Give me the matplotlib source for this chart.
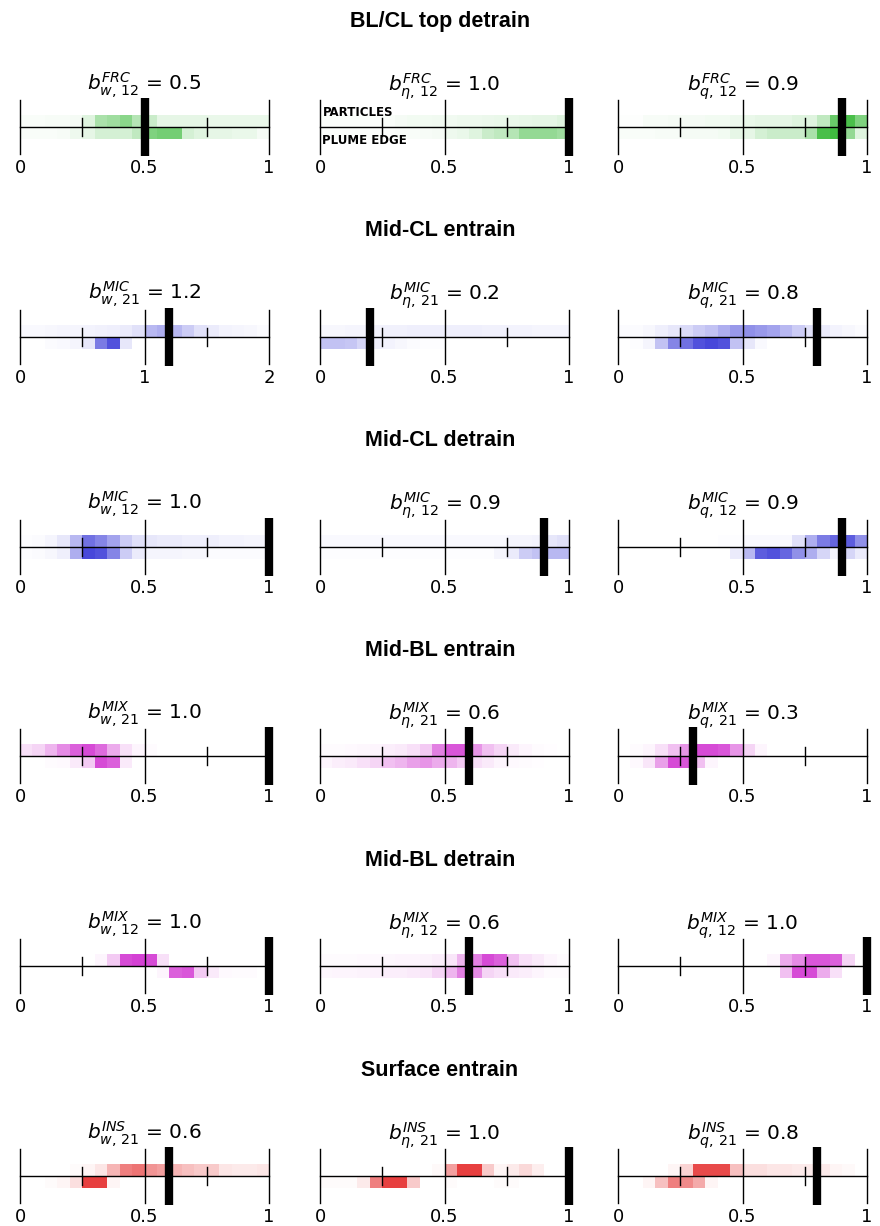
import numpy as np
import matplotlib
matplotlib.use("Agg")
import matplotlib.pyplot as plt
from matplotlib.colors import LinearSegmentedColormap

plt.rcParams["font.family"] = ["DejaVu Sans"]
plt.rcParams["mathtext.fontset"] = "dejavusans"

# ---- section titles, process labels and colours ----
SECTIONS = ["BL/CL top detrain", "Mid-CL entrain", "Mid-CL detrain",
            "Mid-BL entrain", "Mid-BL detrain", "Surface entrain"]
PROCESS = ["FRC", "MIC", "MIC", "MIX", "MIX", "INS"]
INDEX = ["12", "21", "12", "21", "12", "21"]
VARS = ["w", r"\eta", "q"]
COLORS = ["#2ab42a", "#3434d6", "#3434d6", "#cf2ccf", "#e42a2a"]
COLORS = ["#2ab42a", "#3434d6", "#3434d6", "#cf2ccf", "#cf2ccf", "#e42a2a"]

# ---- coefficient values (b) per section, columns w, eta, q ----
B_FRC_12 = [0.5, 1.0, 0.9]
B_MIC_21 = [1.2, 0.2, 0.8]
B_MIC_12 = [1.0, 0.9, 0.9]
B_MIX_21 = [1.0, 0.6, 0.3]
B_MIX_12 = [1.0, 0.6, 1.0]
B_INS_21 = [0.6, 1.0, 0.8]

# axis maximum per panel
XMAX_FRC_12 = [1, 1, 1]
XMAX_MIC_21 = [2, 1, 1]
XMAX_MIC_12 = [1, 1, 1]
XMAX_MIX_21 = [1, 1, 1]
XMAX_MIX_12 = [1, 1, 1]
XMAX_INS_21 = [1, 1, 1]

# ---- histogram densities (20 bins): particles (upper) / plume edge (lower) ----
FRC_W_PART = [0.03, 0.03, 0.04, 0.04, 0.05, 0.15, 0.40, 0.45, 0.55, 0.35, 0.25, 0.12, 0.12, 0.12, 0.12, 0.10, 0.10, 0.10, 0.10, 0.10]
FRC_W_EDGE = [0.03, 0.03, 0.03, 0.04, 0.08, 0.12, 0.20, 0.20, 0.20, 0.30, 0.60, 0.65, 0.65, 0.20, 0.15, 0.12, 0.12, 0.10, 0.10, 0.05]
FRC_E_PART = [0.02, 0.02, 0.02, 0.02, 0.02, 0.03, 0.05, 0.06, 0.06, 0.07, 0.07, 0.08, 0.08, 0.09, 0.10, 0.10, 0.11, 0.12, 0.12, 0.15]
FRC_E_EDGE = [0.02, 0.02, 0.02, 0.02, 0.02, 0.02, 0.03, 0.03, 0.04, 0.05, 0.08, 0.10, 0.15, 0.25, 0.30, 0.35, 0.50, 0.50, 0.50, 0.45]
FRC_Q_PART = [0.01, 0.01, 0.04, 0.04, 0.05, 0.05, 0.05, 0.06, 0.06, 0.08, 0.10, 0.12, 0.12, 0.12, 0.15, 0.15, 0.30, 0.70, 0.85, 0.60]
FRC_Q_EDGE = [0.03, 0.03, 0.03, 0.04, 0.04, 0.05, 0.05, 0.05, 0.06, 0.12, 0.12, 0.20, 0.25, 0.25, 0.25, 0.40, 0.85, 0.90, 0.50, 0.15]

MICE_W_PART = [0.03, 0.03, 0.04, 0.05, 0.05, 0.06, 0.07, 0.08, 0.10, 0.15, 0.35, 0.40, 0.35, 0.25, 0.15, 0.10, 0.06, 0.05, 0.04, 0.02]
MICE_W_EDGE = [0.00, 0.00, 0.02, 0.03, 0.05, 0.12, 0.65, 0.85, 0.12, 0.00, 0.00, 0.00, 0.00, 0.00, 0.00, 0.00, 0.00, 0.00, 0.00, 0.00]
MICE_E_PART = [0.04, 0.04, 0.05, 0.05, 0.06, 0.07, 0.07, 0.08, 0.08, 0.08, 0.08, 0.08, 0.08, 0.07, 0.07, 0.06, 0.06, 0.05, 0.05, 0.05]
MICE_E_EDGE = [0.30, 0.30, 0.28, 0.20, 0.08, 0.06, 0.04, 0.02, 0.01, 0.01, 0.00, 0.00, 0.00, 0.00, 0.00, 0.00, 0.00, 0.00, 0.00, 0.00]
MICE_Q_PART = [0.02, 0.02, 0.04, 0.08, 0.12, 0.18, 0.25, 0.30, 0.40, 0.50, 0.55, 0.50, 0.45, 0.35, 0.25, 0.15, 0.10, 0.06, 0.04, 0.02]
MICE_Q_EDGE = [0.00, 0.01, 0.05, 0.30, 0.60, 0.70, 0.85, 0.90, 0.85, 0.30, 0.12, 0.03, 0.00, 0.00, 0.00, 0.00, 0.00, 0.00, 0.00, 0.00]

MICD_W_PART = [0.01, 0.02, 0.05, 0.12, 0.35, 0.70, 0.60, 0.45, 0.25, 0.15, 0.12, 0.10, 0.10, 0.08, 0.08, 0.08, 0.06, 0.06, 0.05, 0.05]
MICD_W_EDGE = [0.01, 0.02, 0.04, 0.08, 0.40, 0.90, 0.85, 0.60, 0.25, 0.10, 0.05, 0.05, 0.05, 0.04, 0.04, 0.02, 0.02, 0.02, 0.02, 0.02]
MICD_E_PART = [0.03, 0.03, 0.03, 0.03, 0.03, 0.03, 0.03, 0.03, 0.03, 0.03, 0.03, 0.03, 0.03, 0.03, 0.03, 0.05, 0.05, 0.06, 0.12, 0.15]
MICD_E_EDGE = [0.01, 0.01, 0.01, 0.01, 0.01, 0.01, 0.01, 0.01, 0.01, 0.01, 0.01, 0.01, 0.01, 0.01, 0.05, 0.10, 0.25, 0.30, 0.35, 0.35]
MICD_Q_PART = [0.00, 0.00, 0.00, 0.00, 0.00, 0.00, 0.00, 0.00, 0.01, 0.01, 0.03, 0.03, 0.03, 0.03, 0.15, 0.40, 0.65, 0.75, 0.80, 0.55]
MICD_Q_EDGE = [0.00, 0.00, 0.00, 0.00, 0.00, 0.00, 0.00, 0.00, 0.00, 0.10, 0.35, 0.80, 0.85, 0.75, 0.55, 0.40, 0.20, 0.05, 0.20, 0.10]

MIXE_W_PART = [0.15, 0.20, 0.35, 0.55, 0.75, 0.85, 0.70, 0.40, 0.15, 0.05, 0.02, 0.00, 0.00, 0.00, 0.00, 0.00, 0.00, 0.00, 0.00, 0.00]
MIXE_W_EDGE = [0.00, 0.00, 0.02, 0.03, 0.10, 0.25, 0.85, 0.75, 0.10, 0.00, 0.00, 0.00, 0.00, 0.00, 0.00, 0.00, 0.00, 0.00, 0.00, 0.00]
MIXE_E_PART = [0.02, 0.02, 0.03, 0.04, 0.05, 0.08, 0.10, 0.15, 0.25, 0.60, 0.80, 0.80, 0.50, 0.30, 0.20, 0.10, 0.05, 0.02, 0.01, 0.00]
MIXE_E_EDGE = [0.05, 0.08, 0.10, 0.15, 0.20, 0.30, 0.35, 0.45, 0.50, 0.40, 0.35, 0.25, 0.15, 0.10, 0.05, 0.03, 0.02, 0.01, 0.00, 0.00]
MIXE_Q_PART = [0.00, 0.02, 0.05, 0.15, 0.30, 0.50, 0.85, 0.85, 0.80, 0.50, 0.20, 0.05, 0.00, 0.00, 0.00, 0.00, 0.00, 0.00, 0.00, 0.00]
MIXE_Q_EDGE = [0.00, 0.03, 0.12, 0.45, 0.85, 0.80, 0.30, 0.05, 0.00, 0.00, 0.00, 0.00, 0.00, 0.00, 0.00, 0.00, 0.00, 0.00, 0.00, 0.00]

MIXD_W_PART = [0.00, 0.00, 0.00, 0.00, 0.00, 0.00, 0.05, 0.25, 0.85, 0.90, 0.85, 0.15, 0.00, 0.00, 0.00, 0.00, 0.00, 0.00, 0.00, 0.00]
MIXD_W_EDGE = [0.00, 0.00, 0.00, 0.00, 0.00, 0.00, 0.00, 0.00, 0.00, 0.00, 0.00, 0.05, 0.75, 0.80, 0.25, 0.10, 0.03, 0.02, 0.02, 0.00]
MIXD_E_PART = [0.02, 0.02, 0.02, 0.03, 0.03, 0.04, 0.05, 0.05, 0.06, 0.08, 0.12, 0.35, 0.60, 0.85, 0.75, 0.30, 0.15, 0.10, 0.05, 0.02]
MIXD_E_EDGE = [0.04, 0.05, 0.05, 0.06, 0.07, 0.08, 0.08, 0.10, 0.12, 0.20, 0.35, 0.60, 0.55, 0.20, 0.15, 0.10, 0.08, 0.05, 0.02, 0.02]
MIXD_Q_PART = [0.00, 0.00, 0.00, 0.00, 0.00, 0.00, 0.00, 0.00, 0.00, 0.00, 0.00, 0.00, 0.05, 0.40, 0.55, 0.80, 0.80, 0.75, 0.20, 0.00]
MIXD_Q_EDGE = [0.00, 0.00, 0.00, 0.00, 0.00, 0.00, 0.00, 0.00, 0.00, 0.00, 0.00, 0.00, 0.00, 0.30, 0.85, 0.85, 0.40, 0.15, 0.00, 0.00]

INS_W_PART = [0.00, 0.00, 0.00, 0.00, 0.02, 0.05, 0.12, 0.35, 0.60, 0.65, 0.50, 0.45, 0.35, 0.30, 0.25, 0.25, 0.12, 0.10, 0.10, 0.12]
INS_W_EDGE = [0.00, 0.00, 0.02, 0.05, 0.15, 0.90, 0.90, 0.05, 0.00, 0.00, 0.00, 0.00, 0.00, 0.00, 0.00, 0.00, 0.00, 0.00, 0.00, 0.00]
INS_E_PART = [0.00, 0.00, 0.00, 0.00, 0.00, 0.00, 0.00, 0.00, 0.00, 0.03, 0.45, 0.90, 0.90, 0.25, 0.05, 0.10, 0.18, 0.08, 0.00, 0.00]
INS_E_EDGE = [0.02, 0.02, 0.02, 0.10, 0.60, 0.90, 0.90, 0.25, 0.00, 0.00, 0.02, 0.00, 0.00, 0.00, 0.02, 0.02, 0.00, 0.00, 0.00, 0.00]
INS_Q_PART = [0.00, 0.00, 0.00, 0.00, 0.05, 0.20, 0.85, 0.85, 0.85, 0.30, 0.15, 0.15, 0.12, 0.12, 0.10, 0.10, 0.10, 0.05, 0.03, 0.00]
INS_Q_EDGE = [0.00, 0.00, 0.05, 0.30, 0.60, 0.55, 0.40, 0.05, 0.00, 0.00, 0.00, 0.00, 0.00, 0.00, 0.00, 0.00, 0.00, 0.00, 0.00, 0.00]

B_ROWS = [B_FRC_12, B_MIC_21, B_MIC_12, B_MIX_21, B_MIX_12, B_INS_21]
XMAX_ROWS = [XMAX_FRC_12, XMAX_MIC_21, XMAX_MIC_12, XMAX_MIX_21, XMAX_MIX_12, XMAX_INS_21]
HIST_ROWS = [
    [(FRC_W_PART, FRC_W_EDGE), (FRC_E_PART, FRC_E_EDGE), (FRC_Q_PART, FRC_Q_EDGE)],
    [(MICE_W_PART, MICE_W_EDGE), (MICE_E_PART, MICE_E_EDGE), (MICE_Q_PART, MICE_Q_EDGE)],
    [(MICD_W_PART, MICD_W_EDGE), (MICD_E_PART, MICD_E_EDGE), (MICD_Q_PART, MICD_Q_EDGE)],
    [(MIXE_W_PART, MIXE_W_EDGE), (MIXE_E_PART, MIXE_E_EDGE), (MIXE_Q_PART, MIXE_Q_EDGE)],
    [(MIXD_W_PART, MIXD_W_EDGE), (MIXD_E_PART, MIXD_E_EDGE), (MIXD_Q_PART, MIXD_Q_EDGE)],
    [(INS_W_PART, INS_W_EDGE), (INS_E_PART, INS_E_EDGE), (INS_Q_PART, INS_Q_EDGE)],
]

# ---- layout (pixels) ----
W, H = 880, 1226
COL_X0 = [20, 320, 618]
PANEL_W = 249
ROW_Y0 = 127          # axis line of the first row
ROW_DY = 209.8
HALF = 32             # half height of each panel axes (pixels == data units)

fig = plt.figure(figsize=(W / 100, H / 100), dpi=100)


def tick_text(v):
    return f"{v:g}"


for r in range(6):
    yline = ROW_Y0 + r * ROW_DY
    fig.text(0.5, 1 - (yline - 106) / H, SECTIONS[r], ha="center", va="center",
             fontsize=15.5, fontweight="bold", family="Liberation Sans")
    cmap = LinearSegmentedColormap.from_list(f"c{r}", ["#ffffff", COLORS[r]])
    for c in range(3):
        xmax = XMAX_ROWS[r][c]
        b = B_ROWS[r][c]
        part, edge = HIST_ROWS[r][c]
        ax = fig.add_axes([COL_X0[c] / W, 1 - (yline + HALF) / H,
                           PANEL_W / W, 2 * HALF / H])
        ax.set_xlim(0, xmax)
        ax.set_ylim(-HALF, HALF)
        ax.axis("off")

        xe = np.linspace(0, xmax, len(part) + 1)
        ye = np.array([-12, 0, 12])
        ax.pcolormesh(xe, ye, np.array([edge, part]), cmap=cmap,
                      vmin=0, vmax=1, shading="flat", zorder=1)

        # axis line and ticks
        ax.plot([0, xmax], [0, 0], color="black", lw=1.0, zorder=2,
                clip_on=False)
        for t in [0, xmax / 2, xmax]:
            ax.plot([t, t], [-27, 27], color="black", lw=1.0, zorder=2,
                    clip_on=False)
            ax.text(t, -41, tick_text(t), ha="center", va="center",
                    fontsize=13, clip_on=False)
        for t in [xmax / 4, 3 * xmax / 4]:
            ax.plot([t, t], [-9, 9], color="black", lw=1.0, zorder=2,
                    clip_on=False)

        # coefficient marker
        ax.plot([b, b], [-29, 29], color="black", lw=6,
                solid_capstyle="butt", zorder=3, clip_on=False)

        title = (r"$b^{%s}_{%s,\,%s}$ = %.1f"
                 % (PROCESS[r], VARS[c], INDEX[r], b))
        ax.text(xmax / 2, 36, title, ha="center", va="baseline",
                fontsize=14.5, clip_on=False)

        if r == 0 and c == 1:
            ax.text(0.01 * xmax, 15, "PARTICLES", ha="left", va="center",
                    fontsize=8.5, fontweight="bold", clip_on=False, zorder=4)
            ax.text(0.01 * xmax, -14, "PLUME EDGE", ha="left", va="center",
                    fontsize=8.5, fontweight="bold", clip_on=False, zorder=4)

fig.savefig("out.png", dpi=100)
